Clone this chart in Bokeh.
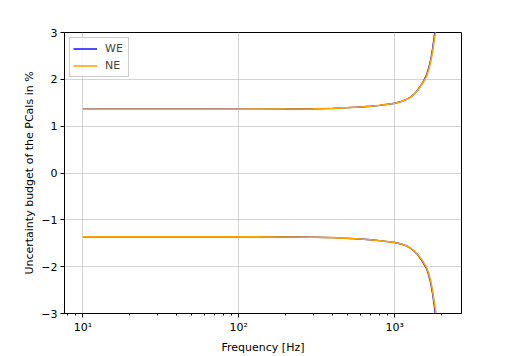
from bokeh.plotting import figure
from bokeh.models import FixedTicker, LogTicker, Legend, LegendItem
from bokeh.embed import file_html
from bokeh.resources import INLINE

# Data
freq = [10, 20, 50, 100, 200, 300, 400, 500, 600, 700, 800, 900, 1000, 1100,
        1200, 1250, 1300, 1350, 1400, 1450, 1500, 1550, 1600, 1650, 1700, 1750,
        1800, 1850, 1900, 1950]
ne_upper = [1.36, 1.36, 1.36, 1.362, 1.366, 1.372, 1.38, 1.395, 1.41, 1.425, 1.445,
            1.468, 1.49, 1.525, 1.575, 1.61, 1.65, 1.70, 1.76, 1.83, 1.90, 1.98,
            2.07, 2.20, 2.37, 2.60, 2.88, 3.10, 3.8, 5.2]
we_upper = [1.36, 1.36, 1.36, 1.362, 1.366, 1.372, 1.38, 1.395, 1.41, 1.425, 1.445,
            1.468, 1.49, 1.526, 1.578, 1.612, 1.653, 1.705, 1.767, 1.84, 1.915, 2.0,
            2.095, 2.235, 2.415, 2.66, 2.96, 3.22, 4.0, 5.6]
ne_lower = [-1.36, -1.36, -1.36, -1.362, -1.366, -1.372, -1.38, -1.395, -1.41, -1.425,
            -1.445, -1.466, -1.485, -1.515, -1.56, -1.595, -1.635, -1.68, -1.735,
            -1.80, -1.865, -1.94, -2.02, -2.14, -2.30, -2.52, -2.80, -3.05, -3.7, -5.0]
we_lower = [-1.36, -1.36, -1.36, -1.362, -1.366, -1.372, -1.38, -1.395, -1.41, -1.425,
            -1.445, -1.466, -1.485, -1.516, -1.562, -1.597, -1.638, -1.685, -1.742,
            -1.81, -1.88, -1.96, -2.045, -2.175, -2.345, -2.58, -2.88, -3.17, -3.9, -5.4]

y_ticks = [-3, -2, -1, 0, 1, 2, 3]
y_tick_labels = ["\u22123", "\u22122", "\u22121", "0", "1", "2", "3"]
x_tick_values = [10, 100, 1000]
x_tick_labels = ["10\u00b9", "10\u00b2", "10\u00b3"]
series_names = ["WE", "NE"]
series_colors = ["blue", "orange"]

FONT = "DejaVu Sans"

p = figure(width=512, height=356, x_axis_type="log",
           x_range=(7.62, 2680), y_range=(-3, 3),
           output_backend="svg", toolbar_location=None,
           min_border_left=64, min_border_top=32, min_border_right=51,
           min_border_bottom=41)

p.background_fill_color = "white"
p.border_fill_color = "white"
p.outline_line_color = "black"
p.outline_line_width = 1
p.outline_line_alpha = 1

r_we_u = p.line(freq, we_upper, line_color=series_colors[0], line_width=1.4)
r_we_l = p.line(freq, we_lower, line_color=series_colors[0], line_width=1.4)
r_ne_u = p.line(freq, ne_upper, line_color=series_colors[1], line_width=1.6)
r_ne_l = p.line(freq, ne_lower, line_color=series_colors[1], line_width=1.6)

# Axes
p.xaxis.ticker = LogTicker(num_minor_ticks=10)
p.xaxis.major_label_overrides = dict(zip(x_tick_values, x_tick_labels))
p.yaxis.ticker = FixedTicker(ticks=y_ticks, minor_ticks=[])
p.yaxis.major_label_overrides = dict(zip(y_ticks, y_tick_labels))

for ax in (p.xaxis[0], p.yaxis[0]):
    ax.major_tick_out = 4
    ax.major_tick_in = 0
    ax.minor_tick_out = 2
    ax.minor_tick_in = 0
    ax.major_tick_line_color = "black"
    ax.minor_tick_line_color = "black"
    ax.axis_line_color = "black"
    ax.major_label_text_font = FONT
    ax.major_label_text_font_size = "11px"
    ax.major_label_text_color = "black"
    ax.axis_label_text_font = FONT
    ax.axis_label_text_font_size = "11px"
    ax.axis_label_text_font_style = "normal"
    ax.axis_label_text_color = "black"
    ax.major_label_standoff = 3

p.xaxis.axis_label = "Frequency [Hz]"
p.yaxis.axis_label = "Uncertainty budget of the PCals in %"
p.xaxis.axis_label_standoff = 4
p.yaxis.axis_label_standoff = 2

p.xgrid.ticker = FixedTicker(ticks=x_tick_values)
p.ygrid.ticker = FixedTicker(ticks=y_ticks)
p.grid.grid_line_color = "#b0b0b0"
p.grid.grid_line_alpha = 0.55
p.grid.grid_line_width = 1

legend = Legend(items=[LegendItem(label=series_names[0], renderers=[r_we_u]),
                       LegendItem(label=series_names[1], renderers=[r_ne_u])],
                location="top_left")
legend.margin = 5
legend.padding = 3
legend.spacing = 2
legend.glyph_width = 24
legend.glyph_height = 15
legend.label_height = 15
legend.label_standoff = 8
legend.label_text_font = FONT
legend.label_text_font_size = "11px"
legend.border_line_color = "#cccccc"
legend.border_line_alpha = 1
legend.background_fill_alpha = 0.8
p.add_layout(legend)

open("out.html", "w").write(file_html(p, INLINE))
